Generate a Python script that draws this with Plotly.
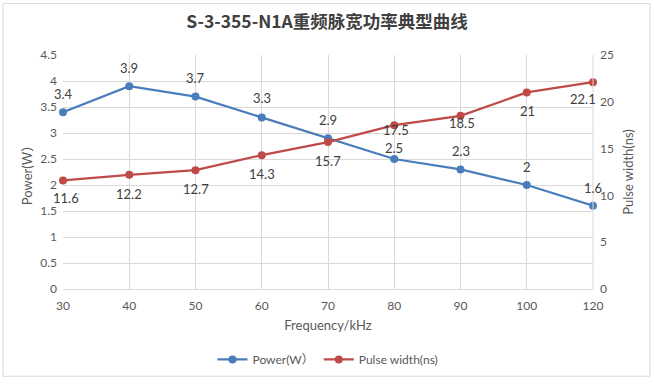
import plotly.graph_objects as go

freq = ["30", "40", "50", "60", "70", "80", "90", "100", "120"]
power = [3.4, 3.9, 3.7, 3.3, 2.9, 2.5, 2.3, 2.0, 1.6]
pulse = [11.6, 12.2, 12.7, 14.3, 15.7, 17.5, 18.5, 21.0, 22.1]
power_text = ["3.4", "3.9", "3.7", "3.3", "2.9", "2.5", "2.3", "2", "1.6"]
pulse_text = ["11.6", "12.2", "12.7", "14.3", "15.7", "17.5", "18.5", "21", "22.1"]

# label placement (pixel shifts), styling only
power_dy = [18, 18, 19, 19, 18, 11, 18, 18, 18]
pulse_dy = [-18, -19, -19, -19, -19, -5, -7, -19, -17]
pulse_dx = [3, 0, 0, 0, 0, 2, 1, 1, -10]

BLUE = "#4A7EBB"
RED = "#BE4B48"
TXT = "#595959"
LBL = "#404040"
GRID = "#D9D9D9"
FONT = "Lato, Noto Sans CJK SC, sans-serif"

fig = go.Figure()
fig.add_trace(go.Scatter(
    x=freq, y=power, name="Power(W）", mode="lines+markers",
    line=dict(color=BLUE, width=2.25), marker=dict(color=BLUE, size=8), cliponaxis=False))
fig.add_trace(go.Scatter(
    x=freq, y=pulse, name="Pulse width(ns)", mode="lines+markers", yaxis="y2",
    line=dict(color=RED, width=2.25), marker=dict(color=RED, size=8), cliponaxis=False))

annotations = []
# on a category axis, annotation x is the category index
for i, (yv, t, dy) in enumerate(zip(power, power_text, power_dy)):
    annotations.append(dict(x=i, y=yv, xref="x", yref="y", text=t, showarrow=False,
                            yshift=dy, xanchor="center", yanchor="middle",
                            font=dict(family=FONT, size=13, color=LBL)))
for i, (yv, t, dy, dx) in enumerate(zip(pulse, pulse_text, pulse_dy, pulse_dx)):
    annotations.append(dict(x=i, y=yv, xref="x", yref="y2", text=t, showarrow=False,
                            yshift=dy, xshift=dx, xanchor="center", yanchor="middle",
                            font=dict(family=FONT, size=13, color=LBL)))

fig.update_layout(
    width=654, height=386,
    margin=dict(l=63, r=61, t=55, b=95),
    paper_bgcolor="white", plot_bgcolor="white",
    font=dict(family=FONT, color=TXT, size=12),
    annotations=annotations,
    title=dict(text="<b>S-3-355-N1A重频脉宽功率典型曲线</b>", x=0.5, xanchor="center",
               y=1 - 22 / 386, yanchor="middle",
               font=dict(family="Noto Sans CJK SC, sans-serif", size=17.5, color="#404040")),
    xaxis=dict(type="category", showgrid=True, gridcolor=GRID, gridwidth=1,
               showline=True, linecolor=GRID, mirror=False, ticks="",
               range=[0, 8], tickfont=dict(size=12, color=TXT), ticklabelstandoff=6,
               title=dict(text="Frequency/kHz", font=dict(size=13, color=TXT), standoff=8),
               zeroline=False),
    yaxis=dict(range=[0, 4.5], dtick=0.5, showgrid=True, gridcolor=GRID,
               showline=False, zeroline=False, ticks="", tickformat="~g",
               tickfont=dict(size=12, color=TXT), ticklabelstandoff=5,
               title=dict(text="Power(W）", font=dict(size=13, color=TXT), standoff=4)),
    yaxis2=dict(range=[0, 25], dtick=5, overlaying="y", side="right", showgrid=False,
                zeroline=False, showline=False, ticks="",
                tickfont=dict(size=12, color=TXT), ticklabelstandoff=6,
                title=dict(text="Pulse width(ns)", font=dict(size=13, color=TXT), standoff=10)),
    legend=dict(orientation="h", x=0.5, xanchor="center", y=-71 / 236, yanchor="middle",
                font=dict(size=12, color=TXT)),
    showlegend=True,
)

# right boundary line of plot area
fig.add_shape(type="line", xref="paper", yref="paper", x0=1, x1=1, y0=0, y1=1,
              line=dict(color=GRID, width=1))
# outer chart border
fig.add_shape(type="rect", xref="paper", yref="paper",
              x0=-60 / 530, x1=1 + 57 / 530, y0=-88 / 236, y1=1 + 52 / 236,
              line=dict(color="#D9D9D9", width=1), layer="below")

fig.write_html("out.html")
